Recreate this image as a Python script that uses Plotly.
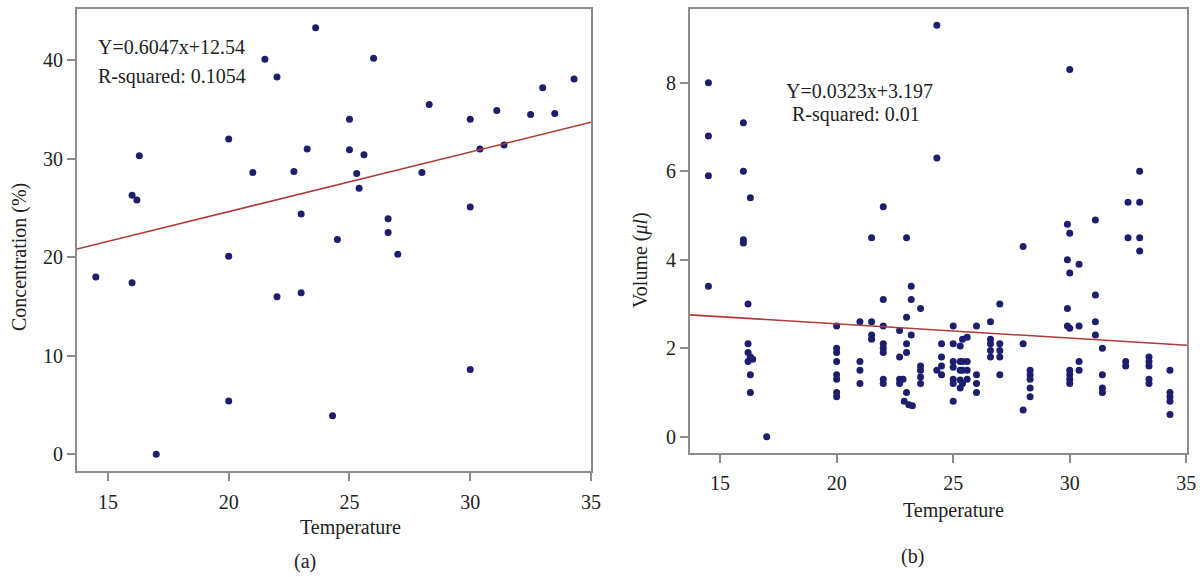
import plotly.graph_objects as go

# ---------------- Panel (a) data ----------------
temp_a = [14.5, 16.0, 16.2, 16.3, 16.0, 17.0, 20.0, 20.0, 20.0, 21.0,
          21.5, 22.0, 22.0, 22.7, 23.0, 23.0, 23.25, 23.6, 24.3, 24.5,
          25.0, 25.0, 25.3, 25.4, 25.6, 26.0, 26.6, 26.6, 27.0, 28.0,
          28.3, 30.0, 30.0, 30.0, 30.4, 31.1, 31.4, 32.5, 33.0, 33.5, 34.3]
conc_a = [18.0, 26.3, 25.8, 30.3, 17.4, 0.0, 32.0, 20.1, 5.4, 28.6,
          40.1, 38.3, 16.0, 28.7, 16.4, 24.4, 31.0, 43.3, 3.9, 21.8,
          34.0, 30.9, 28.5, 27.0, 30.4, 40.2, 23.9, 22.5, 20.3, 28.6,
          35.5, 34.0, 25.1, 8.6, 31.0, 34.9, 31.4, 34.5, 37.2, 34.6, 38.1]
slope_a, intercept_a = 0.6047, 12.54
xrange_a = [13.72, 35.0]
yrange_a = [-1.7, 45.2]

# ---------------- Panel (b) data ----------------
temp_b = [14.5, 14.5, 14.5, 14.5,
          16.0, 16.0, 16.0, 16.0, 16.3,
          16.2, 16.2, 16.2, 16.2, 16.3, 16.3, 16.3, 16.4,
          17.0,
          20.0, 20.0, 20.0, 20.0, 20.0, 20.0, 20.0, 20.0,
          21.0, 21.0, 21.0, 21.0,
          21.5, 21.5, 21.5, 21.5,
          22.0, 22.0, 22.0, 22.0, 22.0, 22.0, 22.0, 22.0,
          22.7, 22.7, 22.7, 22.7, 22.85,
          23.0, 23.0, 23.0, 23.0, 23.0, 22.9, 23.1, 23.25,
          23.2, 23.2, 23.2,
          23.6, 23.6, 23.6, 23.6, 23.6,
          24.3, 24.3, 24.3,
          24.5, 24.5, 24.5, 24.5,
          25.0, 25.0, 25.0, 25.0, 25.0, 25.0, 25.0,
          25.3, 25.3, 25.3, 25.3, 25.3,
          25.4, 25.4, 25.4, 25.4,
          25.6, 25.6, 25.6, 25.6,
          26.0, 26.0, 26.0, 26.0,
          26.6, 26.6, 26.6, 26.6, 26.6,
          27.0, 27.0, 27.0, 27.0, 27.0,
          28.0, 28.0, 28.0,
          28.3, 28.3, 28.3, 28.3, 28.3,
          29.9, 29.9, 29.9, 29.9,
          30.0, 30.0, 30.0, 30.0, 30.0, 30.0, 30.0, 30.0,
          30.4, 30.4, 30.4, 30.4,
          31.1, 31.1, 31.1, 31.1,
          31.4, 31.4, 31.4, 31.4,
          32.4, 32.4,
          32.5, 32.5,
          33.0, 33.0, 33.0, 33.0,
          33.4, 33.4, 33.4, 33.4, 33.4,
          34.3, 34.3, 34.3, 34.3, 34.3]
vol_b = [8.0, 6.8, 5.9, 3.4,
         7.1, 6.0, 4.45, 4.38, 5.4,
         3.0, 2.1, 1.9, 1.7, 1.8, 1.4, 1.0, 1.75,
         0.0,
         2.5, 2.0, 1.9, 1.7, 1.4, 1.3, 1.0, 0.9,
         2.6, 1.7, 1.5, 1.2,
         4.5, 2.6, 2.3, 2.2,
         5.2, 3.1, 2.5, 2.1, 2.0, 1.9, 1.3, 1.2,
         2.4, 1.8, 1.3, 1.2, 1.3,
         4.5, 2.7, 2.1, 1.9, 1.0, 0.8, 0.72, 0.7,
         3.4, 3.1, 2.3,
         2.9, 1.6, 1.5, 1.35, 1.2,
         9.3, 6.3, 1.5,
         2.1, 1.8, 1.6, 1.4,
         2.5, 2.1, 1.7, 1.57, 1.3, 1.2, 0.8,
         2.05, 1.7, 1.5, 1.28, 1.1,
         2.2, 1.7, 1.5, 1.2,
         2.25, 1.7, 1.5, 1.3,
         2.5, 1.4, 1.2, 1.0,
         2.6, 2.2, 2.1, 1.95, 1.8,
         3.0, 2.1, 1.95, 1.8, 1.4,
         4.3, 2.1, 0.6,
         1.5, 1.4, 1.3, 1.1, 0.9,
         4.8, 4.0, 2.9, 2.5,
         8.3, 4.6, 3.7, 2.45, 1.5, 1.4, 1.3, 1.2,
         3.9, 2.5, 1.7, 1.5,
         4.9, 3.2, 2.6, 2.3,
         2.0, 1.4, 1.1, 1.0,
         1.7, 1.6,
         5.3, 4.5,
         6.0, 5.3, 4.5, 4.2,
         1.8, 1.7, 1.6, 1.3, 1.2,
         1.5, 1.0, 0.9, 0.8, 0.5]
slope_b, intercept_b = -0.0323, 3.197
xrange_b = [13.71, 35.03]
yrange_b = [-0.37, 9.67]

x_ticks = [15, 20, 25, 30, 35]
y_ticks_a = [0, 10, 20, 30, 40]
y_ticks_b = [0, 2, 4, 6, 8]

DOT = "#1e1e6e"
RED = "#b23a3a"
AXC = "#8c8c8c"
FONT = "Liberation Serif, Times New Roman, serif"
TXT = "#222222"

fig = go.Figure()
fig.add_trace(go.Scatter(x=temp_a, y=conc_a, mode="markers",
                         marker=dict(color=DOT, size=7), xaxis="x", yaxis="y"))
fig.add_trace(go.Scatter(x=xrange_a, y=[slope_a * v + intercept_a for v in xrange_a],
                         mode="lines", line=dict(color=RED, width=1.6), xaxis="x", yaxis="y"))
fig.add_trace(go.Scatter(x=temp_b, y=vol_b, mode="markers",
                         marker=dict(color=DOT, size=7), xaxis="x2", yaxis="y2"))
fig.add_trace(go.Scatter(x=xrange_b, y=[slope_b * v + intercept_b for v in xrange_b],
                         mode="lines", line=dict(color=RED, width=1.6), xaxis="x2", yaxis="y2"))

W, H = 1202, 577


def px_x(p):
    return p / W


def px_y(p):
    return 1 - p / H


axis_common = dict(showgrid=False, zeroline=False, showline=True, linecolor=AXC,
                   linewidth=2, mirror=True, ticks="outside", ticklen=8, tickwidth=1.5,
                   tickcolor=AXC, tickfont=dict(family=FONT, size=20, color=TXT),
                   automargin=False)

fig.update_layout(
    width=W, height=H, margin=dict(l=0, r=0, t=0, b=0),
    paper_bgcolor="white", plot_bgcolor="white", showlegend=False,
    xaxis=dict(domain=[px_x(77), px_x(591)], range=xrange_a, tickvals=x_ticks,
               anchor="y", ticklabelstandoff=4, **axis_common),
    yaxis=dict(domain=[px_y(471), px_y(9)], range=yrange_a, tickvals=y_ticks_a,
               anchor="x", **axis_common),
    xaxis2=dict(domain=[px_x(690), px_x(1187)], range=xrange_b, tickvals=x_ticks,
                anchor="y2", ticklabelstandoff=3, **axis_common),
    yaxis2=dict(domain=[px_y(453), px_y(9)], range=yrange_b, tickvals=y_ticks_b,
                anchor="x2", **axis_common),
)

font = dict(family=FONT, size=20, color=TXT)
ann = [
    dict(text="Y=0.6047x+12.54", x=px_x(96), y=px_y(47), xanchor="left", yanchor="middle"),
    dict(text="R-squared: 0.1054", x=px_x(96), y=px_y(77), xanchor="left", yanchor="middle"),
    dict(text="Y=0.0323x+3.197", x=px_x(859), y=px_y(91), xanchor="center", yanchor="middle"),
    dict(text="R-squared: 0.01", x=px_x(856), y=px_y(115), xanchor="center", yanchor="middle"),
    dict(text="Temperature", x=px_x(350), y=px_y(527), xanchor="center", yanchor="middle"),
    dict(text="(a)", x=px_x(305), y=px_y(561), xanchor="center", yanchor="middle"),
    dict(text="Temperature", x=px_x(953), y=px_y(510), xanchor="center", yanchor="middle"),
    dict(text="(b)", x=px_x(912), y=px_y(556), xanchor="center", yanchor="middle"),
    dict(text="Concentration (%)", x=px_x(19), y=px_y(257), xanchor="center",
         yanchor="middle", textangle=-90),
    dict(text="Volume (<i>μl</i>)", x=px_x(640), y=px_y(260), xanchor="center",
         yanchor="middle", textangle=-90),
]
for a in ann:
    a.update(xref="paper", yref="paper", showarrow=False, font=font)
fig.update_layout(annotations=ann)

fig.write_html(
    "out.html",
    config={"displayModeBar": False},
    post_script="document.body.style.margin='0px';document.body.style.padding='0px';"
                "document.body.style.overflow='hidden';",
)
